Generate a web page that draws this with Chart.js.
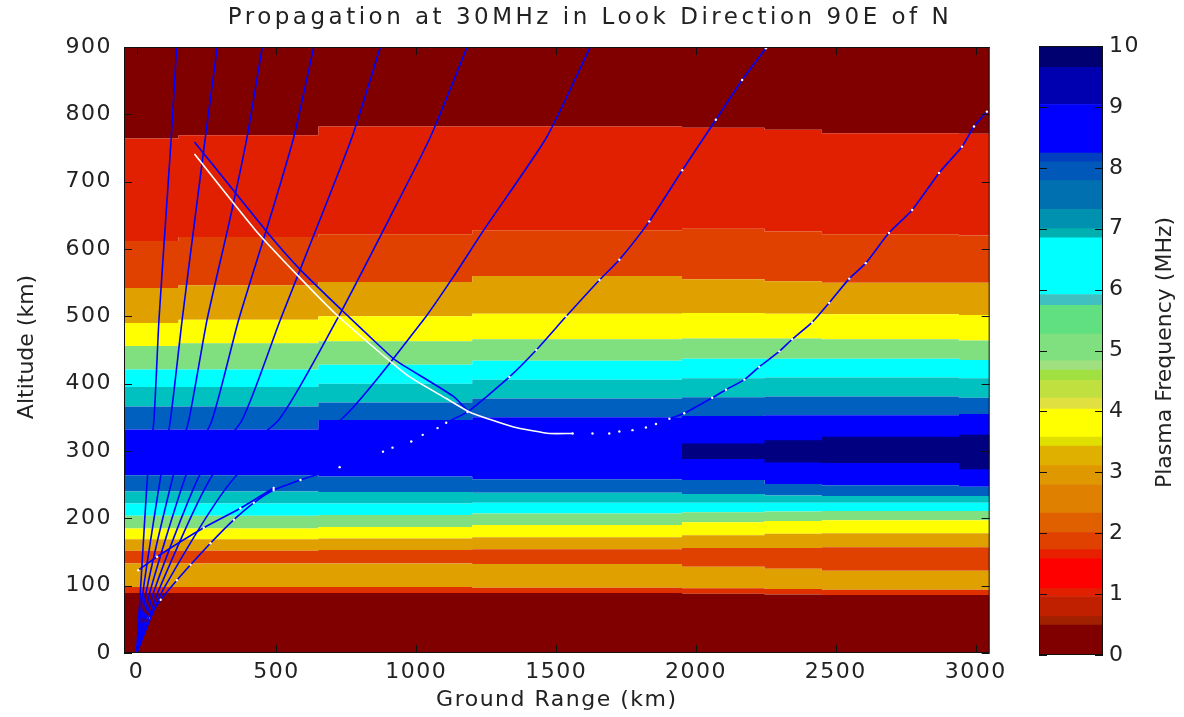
<!DOCTYPE html>
<html>
<head>
<meta charset="utf-8">
<script src="https://cdn.jsdelivr.net/npm/chart.js@4.4.1/dist/chart.umd.min.js"></script>
<style>
  body { margin: 0; background: #fff; }
  #main { position: absolute; left: 0; top: 0; }
  #cbar { position: absolute; left: 1020px; top: 0; }
</style>
</head>
<body>
<canvas id="main" width="1010" height="717"></canvas>
<canvas id="cbar" width="164" height="717"></canvas>
<script>
// axis ticks
const rangeTicks = [0, 500, 1000, 1500, 2000, 2500, 3000];
const altTicks = [0, 100, 200, 300, 400, 500, 600, 700, 800, 900];
const freqTicks = [0, 1, 2, 3, 4, 5, 6, 7, 8, 9, 10];

// ground range (km) of the columns where the contour edges were read
const colRange = [-45, 150, 650, 1200, 1950, 2245, 2450, 2940, 3050];

// altitude (km) of each contour edge per column, bottom to top
const bGround     = [0, 0, 0, 0, 0, 0, 0, 0, 0];
const bRed1       = [89, 89, 89, 89, 88, 87, 86, 86, 86];
const bOrange1    = [98, 98, 98, 97, 96, 95, 94, 94, 94];
const bOrangeRed1 = [133, 133, 133, 132, 128, 125, 122, 122, 122];
const bOrange2    = [152, 152, 153, 154, 156, 156, 157, 157, 157];
const bYellow1    = [169, 169, 170, 172, 175, 177, 178, 178, 178];
const bGreen1     = [185, 185, 187, 190, 194, 196, 197, 197, 197];
const bCyan1      = [204, 204, 205, 207, 209, 210, 211, 211, 211];
const bTeal1      = [222, 222, 222, 223, 223, 223, 223, 223, 223];
const bMid1       = [240, 240, 239, 238, 236, 234, 233, 233, 233];
const bBlue       = [264, 264, 262, 258, 257, 251, 249, 247, 247];
const bMid2       = [332, 332, 346, 350, 352, 353, 353, 355, 355];
const bTeal2      = [366, 366, 372, 378, 380, 381, 381, 379, 379];
const bCyan2      = [395, 395, 400, 406, 408, 409, 409, 408, 408];
const bGreen2     = [421, 421, 428, 434, 437, 437, 437, 435, 435];
const bYellow2    = [456, 460, 463, 466, 467, 467, 466, 464, 464];
const bOrange3    = [490, 495, 500, 504, 505, 504, 503, 502, 502];
const bOrangeRed2 = [542, 546, 551, 560, 555, 552, 550, 550, 550];
const bRed2       = [612, 618, 622, 628, 630, 626, 622, 620, 620];
const bMaroon2    = [764, 769, 782, 782, 780, 777, 772, 771, 771];
const bTop        = [900, 900, 900, 900, 900, 900, 900, 900, 900];

// the 9-10 MHz patch near the layer peak
const navyLow  = [300, 300, 300, 300, 288, 283, 282, 273, 273];
const navyHigh = [300, 300, 300, 300, 311, 316, 321, 324, 324];

const MAROON = '#800000', THINRED = '#e03000', RED = '#e02000', ORANGERED = '#e04000',
      ORANGE = '#e0a000', YELLOW = '#ffff00', GREEN = '#80e080', CYAN = '#00ffff',
      TEAL = '#00c0c0', MIDBLUE = '#0060c0', BLUE = '#0000ff', NAVY = '#000080';

const bandEdges = [bGround, bRed1, bOrange1, bOrangeRed1, bOrange2, bYellow1, bGreen1, bCyan1,
  bTeal1, bMid1, bBlue, bMid2, bTeal2, bCyan2, bGreen2, bYellow2, bOrange3, bOrangeRed2, bRed2,
  bMaroon2, bTop];
const bandColors = [MAROON, THINRED, ORANGE, ORANGERED, ORANGE, YELLOW, GREEN, CYAN, TEAL,
  MIDBLUE, BLUE, MIDBLUE, TEAL, CYAN, GREEN, YELLOW, ORANGE, ORANGERED, RED, MAROON];

// ray paths: ground range (km) and altitude (km)
const ray1Range = [0, 14, 40, 62, 80, 104, 124, 143];
const ray1Alt   = [0, 94, 267, 346, 495, 643, 766, 899];
const ray2Range = [0, 24, 88, 121, 163, 208, 246, 288];
const ray2Alt   = [0, 94, 267, 346, 495, 643, 766, 899];
const ray3Range = [0, 36, 133, 187, 252, 333, 395, 449];
const ray3Alt   = [0, 94, 267, 346, 495, 643, 766, 899];
const ray4Range = [0, 50, 179, 270, 365, 475, 562, 633];
const ray4Alt   = [0, 94, 267, 346, 495, 643, 766, 899];
const ray5Range = [0, 64, 229, 377, 514, 655, 770, 871];
const ray5Alt   = [0, 94, 267, 346, 495, 643, 766, 899];
const ray6Range = [0, 80, 276, 508, 716, 901, 1050, 1181];
const ray6Alt   = [0, 94, 267, 346, 495, 643, 766, 899];
const ray7Range = [0, 95, 365, 729, 1026, 1133, 1241, 1466, 1621];
const ray7Alt   = [0, 94, 267, 346, 495, 559, 628, 766, 899];
const ray8Range = [0, 44, 86, 144, 193, 264, 348, 419, 490, 586, 726, 881, 915, 982, 1023, 1076,
  1107, 1183, 1333, 1429, 1536, 1655, 1726, 1833, 1951, 2071, 2165, 2250];
const ray8Alt   = [0, 52, 79, 108, 131, 163, 198, 223, 242, 257, 276, 299, 305, 314, 324, 334,
  342, 358, 410, 450, 500, 554, 584, 641, 717, 792, 851, 898];
const ray9Range = [6, 73, 240, 371, 490];
const ray9Alt   = [123, 143, 186, 215, 245];
// downward ray from the upper left, blue and white traces
const satRange = [207, 461, 586, 734, 869, 925, 1133, 1190, 1262, 1345, 1416, 1476, 1559, 1630,
  1690, 1726, 1773, 1821, 1857, 1905, 1958, 2058, 2107, 2173, 2226, 2298, 2344, 2415, 2476,
  2548, 2607, 2690, 2773, 2869, 2951, 2994, 3040];
const satAlt   = [759, 628, 569, 509, 456, 435, 381, 358, 347, 336, 330, 326, 326, 326,
  326, 329, 331, 335, 340, 348, 356, 379, 391, 406, 425, 448, 466, 491, 520,
  556, 579, 624, 658, 713, 752, 782, 804];
const whiteRange = [207, 425, 580, 716, 907, 976, 1107, 1190, 1262, 1345, 1416, 1476, 1559];
const whiteAlt   = [741, 628, 559, 502, 433, 410, 378, 358, 347, 336, 330, 326, 326];

// colour bar levels (MHz) and colours
const cbEdges = [0, 0.49, 0.63, 0.96, 1.09, 1.58, 1.73, 2.01, 2.33, 2.80, 3.11, 3.43, 3.58, 4.04,
  4.22, 4.51, 4.68, 4.83, 5.27, 5.74, 5.92, 6.85, 7.0, 7.32, 7.79, 8.10, 8.24, 9.04, 9.65, 10];
const cbColors = ['#800000', '#a02000', '#c02000', '#e02000', '#ff0000', '#e82000', '#e04000',
  '#e06000', '#e08000', '#e09800', '#e0b000', '#e0e000', '#ffff00', '#e0e040', '#c0e040',
  '#a0e040', '#a0e080', '#80e080', '#60e080', '#40c0c0', '#00ffff', '#00b0b0', '#0090b0',
  '#0070b0', '#0058b8', '#0040c0', '#0000ff', '#0000b0', '#000070'];

const FONT = 'DejaVu Sans';
const TXT = '#222';
const SPACING = '1.5px';

const pts = (xs, ys) => xs.map((x, i) => ({ x, y: ys[i] }));

function band(edge, color) {
  return {
    data: pts(colRange, edge), stepped: 'before', order: 10,
    borderColor: 'rgba(0,0,0,0)', borderWidth: 0, pointRadius: 0,
    backgroundColor: color, fill: color ? '-1' : false
  };
}

function ray(xs, ys, color, width, dots) {
  return {
    data: pts(xs, ys), order: 0, borderColor: color, borderWidth: width, tension: 0.2,
    pointRadius: dots || 0, pointBackgroundColor: '#fff', pointBorderWidth: 0, fill: false
  };
}

const datasets = bandEdges.map((e, i) => band(e, i ? bandColors[i - 1] : null));
datasets.push(Object.assign(band(navyLow, null), { order: 5 }));
datasets.push(Object.assign(band(navyHigh, NAVY), { order: 5 }));
datasets.push(
  ray(whiteRange, whiteAlt, '#ffffff', 1.6, 0),
  ray(ray1Range, ray1Alt, BLUE, 1.6, 0),
  ray(ray2Range, ray2Alt, BLUE, 1.6, 0),
  ray(ray3Range, ray3Alt, BLUE, 1.6, 0),
  ray(ray4Range, ray4Alt, BLUE, 1.6, 0),
  ray(ray5Range, ray5Alt, BLUE, 1.6, 0),
  ray(ray6Range, ray6Alt, BLUE, 1.6, 0),
  ray(ray7Range, ray7Alt, BLUE, 1.6, 0),
  ray(ray8Range, ray8Alt, BLUE, 1.6, 1.2),
  ray(ray9Range, ray9Alt, BLUE, 1.6, 1.2),
  Object.assign(ray(satRange, satAlt, BLUE, 1.6, 0), {
    pointRadius: c => (c.raw && c.raw.x > 1550 ? 1.2 : 0)
  })
);

function vText(ctx, text, x, y) {
  ctx.save();
  ctx.letterSpacing = '0px';
  ctx.translate(x, y);
  ctx.rotate(-Math.PI / 2);
  ctx.fillStyle = TXT;
  ctx.font = '22px "' + FONT + '"';
  ctx.textAlign = 'center';
  ctx.textBaseline = 'middle';
  ctx.fillText(text, 0, 0);
  ctx.restore();
}

const mainDeco = {
  id: 'mainDeco',
  beforeDraw(chart) { chart.ctx.letterSpacing = SPACING; },
  afterDatasetsDraw(chart) {
    const { ctx, chartArea: a, scales: { x, y } } = chart;
    ctx.save();
    ctx.strokeStyle = '#111';
    ctx.lineWidth = 1;
    ctx.beginPath();
    x.ticks.forEach(t => {
      const px = Math.round(x.getPixelForValue(t.value)) + 0.5;
      ctx.moveTo(px, a.bottom); ctx.lineTo(px, a.bottom - 8);
      ctx.moveTo(px, a.top); ctx.lineTo(px, a.top + 8);
    });
    y.ticks.forEach(t => {
      const py = Math.round(y.getPixelForValue(t.value)) + 0.5;
      ctx.moveTo(a.left, py); ctx.lineTo(a.left + 8, py);
      ctx.moveTo(a.right, py); ctx.lineTo(a.right - 8, py);
    });
    ctx.stroke();
    ctx.strokeRect(a.left + 0.5, a.top + 0.5, a.width - 1, a.height - 1);
    ctx.fillStyle = TXT;
    ctx.letterSpacing = '3.5px';
    ctx.font = '23px "' + FONT + '"';
    ctx.textAlign = 'center';
    ctx.textBaseline = 'middle';
    ctx.fillText('Propagation at 30MHz in Look Direction 90E of N', 590, 18);
    ctx.restore();
    vText(ctx, 'Altitude (km)', 27, (a.top + a.bottom) / 2 - 3);
  }
};

new Chart(document.getElementById('main'), {
  type: 'line',
  data: { datasets },
  options: {
    responsive: false,
    animation: false,
    layout: { padding: { top: 47, right: 20, left: 0, bottom: 0 } },
    plugins: { legend: { display: false }, tooltip: { enabled: false } },
    scales: {
      x: {
        type: 'linear', min: -45, max: 3050,
        afterBuildTicks(s) { s.ticks = rangeTicks.map(v => ({ value: v })); },
        ticks: { maxRotation: 0, padding: 6, color: TXT, callback: v => String(v),
          font: { family: FONT, size: 22 } },
        grid: { display: false, drawTicks: false },
        border: { display: false },
        title: { display: true, text: 'Ground Range (km)', color: TXT,
          font: { family: FONT, size: 22 }, padding: { top: 0, bottom: 4 } },
        afterFit(s) { s.height = 64; }
      },
      y: {
        type: 'linear', min: 0, max: 900,
        afterBuildTicks(s) { s.ticks = altTicks.map(v => ({ value: v })); },
        ticks: { padding: 12, color: TXT, callback: v => String(v),
          font: { family: FONT, size: 22 } },
        grid: { display: false, drawTicks: false },
        border: { display: false },
        afterFit(s) { s.width = 124; }
      }
    }
  },
  plugins: [mainDeco]
});

const cbarDeco = {
  id: 'cbarDeco',
  beforeDraw(chart) { chart.ctx.letterSpacing = SPACING; },
  afterDatasetsDraw(chart) {
    const { ctx, chartArea: a, scales: { y } } = chart;
    ctx.save();
    ctx.strokeStyle = '#111';
    ctx.lineWidth = 1;
    ctx.beginPath();
    y.ticks.forEach(t => {
      const py = Math.round(y.getPixelForValue(t.value)) + 0.5;
      ctx.moveTo(a.left, py); ctx.lineTo(a.left + 8, py);
      ctx.moveTo(a.right, py); ctx.lineTo(a.right - 8, py);
    });
    ctx.stroke();
    ctx.strokeRect(a.left + 0.5, a.top + 0.5, a.width - 1, a.height - 1);
    ctx.restore();
    vText(ctx, 'Plasma Frequency (MHz)', 145, (a.top + a.bottom) / 2 + 2);
  }
};

new Chart(document.getElementById('cbar'), {
  type: 'bar',
  data: {
    labels: [''],
    datasets: cbColors.map((c, i) => ({
      data: [[cbEdges[i], cbEdges[i + 1]]], backgroundColor: c, borderWidth: 0,
      barPercentage: 1, categoryPercentage: 1, grouped: false
    }))
  },
  options: {
    responsive: false,
    animation: false,
    layout: { padding: { top: 46, bottom: 62, left: 19, right: 0 } },
    plugins: { legend: { display: false }, tooltip: { enabled: false } },
    scales: {
      x: { display: false },
      y: {
        position: 'right', min: 0, max: 10,
        afterBuildTicks(s) { s.ticks = freqTicks.map(v => ({ value: v })); },
        ticks: { padding: 6, color: TXT, font: { family: FONT, size: 22 } },
        grid: { display: false, drawTicks: false },
        border: { display: false },
        afterFit(s) { s.width = 81; }
      }
    }
  },
  plugins: [cbarDeco]
});
</script>
</body>
</html>
